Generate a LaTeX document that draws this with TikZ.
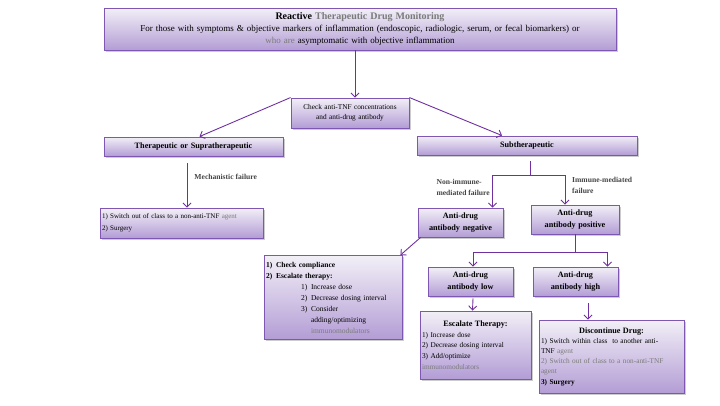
\documentclass[tikz,border=0pt]{standalone}
\usepackage{fontspec}
\setmainfont{Liberation Serif}
\usetikzlibrary{shadows,arrows.meta}

\definecolor{boxline}{HTML}{7E57B2}
\definecolor{boxtop}{HTML}{F2EFF7}
\definecolor{boxbottom}{HTML}{B39DD5}
\definecolor{flowpurple}{HTML}{7030A0}
\definecolor{softgray}{HTML}{7A7A7A}
\definecolor{labelgray}{HTML}{444444}

\tikzstyle{tdmbox} = [draw=boxline, line width=0.9pt, top color=boxtop, bottom color=boxbottom, drop shadow={shadow xshift=1.5pt, shadow yshift=-1.5pt, opacity=0.4}, inner sep=2pt, align=center]
\tikzstyle{flow} = [draw=flowpurple, line width=0.9pt, -{Straight Barb[length=4pt,width=8pt]}]
\tikzstyle{branch} = [draw=flowpurple, line width=0.9pt]
\tikzstyle{failure} = [font=\bfseries\fontsize{7.6}{11}\selectfont, text=labelgray, align=left, inner sep=0pt]
\tikzstyle{result} = [font=\bfseries\fontsize{8.2}{11.5}\selectfont]

\begin{document}
\begin{tikzpicture}[x=1pt,y=-1pt]
		\useasboundingbox (0,0) rectangle (720,405);
		% boxes
		\node[tdmbox, text width=508pt, minimum height=42pt, font=\fontsize{9}{12}\selectfont] (reactive) at (360,29) {{\fontsize{10}{12}\selectfont\textbf{Reactive \textcolor{softgray}{Therapeutic Drug Monitoring}}}\\ For those with symptoms \& objective markers of inflammation (endoscopic, radiologic, serum, or fecal biomarkers) or\\ \textcolor{softgray}{who are} asymptomatic with objective inflammation};
		\node[tdmbox, text width=114pt, minimum height=30pt, font=\fontsize{7.3}{10.5}\selectfont] (check) at (350,113) {Check anti-TNF concentrations\\ and anti-drug antibody};
		\node[tdmbox, result, text width=175pt, minimum height=19pt] (thera) at (193.5,146.5) {Therapeutic or Supratherapeutic};
		\node[tdmbox, result, text width=216pt, minimum height=19pt] (sub) at (527,145.5) {Subtherapeutic};
		\node[tdmbox, text width=159pt, minimum height=30pt, align=left, font=\fontsize{7}{11.5}\selectfont] (switch) at (181.5,223) {1) Switch out of class to a non-anti-TNF \textcolor{softgray}{agent}\\ 2) Surgery};
		\node[tdmbox, result, text width=81pt, minimum height=29pt] (neg) at (460.5,222.5) {Anti-drug\\ antibody negative};
		\node[tdmbox, result, text width=84pt, minimum height=29pt] (pos) at (575,219.5) {Anti-drug\\ antibody positive};
		\node[tdmbox, text width=134pt, minimum height=84pt, align=left, font=\fontsize{7.5}{11}\selectfont] (compl) at (333,297.5) {\textbf{1)\enspace Check compliance}\\ \textbf{2)\enspace Escalate therapy:}\\ \hspace*{35pt}1)\enspace Increase dose\\ \hspace*{35pt}2)\enspace Decrease dosing interval\\ \hspace*{35pt}3)\enspace Consider\\ \hspace*{45pt}adding/optimizing\\ \hspace*{45pt}\textcolor{softgray}{immunomodulators}};
		\node[tdmbox, result, text width=81pt, minimum height=29pt] (low) at (470.5,281.5) {Anti-drug\\ antibody low};
		\node[tdmbox, result, text width=81pt, minimum height=29pt] (high) at (575.5,281.5) {Anti-drug\\ antibody high};
		\node[tdmbox, text width=107pt, minimum height=68pt, align=left, font=\fontsize{7.3}{10.6}\selectfont] (esc) at (475.5,345) {\makebox[\hsize]{\fontsize{8.2}{10.6}\selectfont\textbf{Escalate Therapy:}}\\ 1) Increase dose\\ 2) Decrease dosing interval\\ 3) Add/optimize\\ \textcolor{softgray}{immunomodulators}};
		\node[tdmbox, text width=141pt, minimum height=73pt, align=left, font=\fontsize{7.3}{10.2}\selectfont] (disc) at (611.5,356.5) {\makebox[\hsize]{\fontsize{8.2}{10.2}\selectfont\textbf{Discontinue Drug:}}\\ 1) Switch within class\ \ to another anti-\\ TNF \textcolor{softgray}{agent}\\ \textcolor{softgray}{2) Switch out of class to a non-anti-TNF}\\ \textcolor{softgray}{agent}\\ \textbf{3) Surgery}};

		% failure labels
		\node[failure, anchor=north east] (nonimmune) at (490,179) {Non-immune-\\mediated failure};
		\node[failure, anchor=north west] (immune) at (572,177) {Immune-mediated\\failure};

		% split points
		\coordinate (subsplit) at ([xshift=3pt,yshift=-20pt]sub.south);
		\coordinate (possplit) at ([yshift=-18pt]pos.south);

		% connectors
		\draw[flow] ([xshift=5pt]check.north |- reactive.south) -- ([xshift=5pt]check.north);
		\draw[flow] (check.north west) -- ([xshift=6pt]thera.north);
		\draw[flow] (check.north east) -- ([xshift=-25pt]sub.north);
		\draw[flow] ([xshift=-6.5pt,yshift=-7pt]thera.south) -- node[failure, right=7pt, pos=0.3] (mech) {Mechanistic failure} ([xshift=5.5pt]switch.north);
		\draw[branch] ([xshift=3pt,yshift=-6pt]sub.south) -- (subsplit);
		\draw[flow] (subsplit) -| ([xshift=32pt]neg.north);
		\draw[flow] (subsplit) -| ([xshift=-10pt]pos.north);
		\draw[flow] ([xshift=3pt]neg.south west) -- ([xshift=-2pt]compl.north east);
		\draw[branch] (pos.south) -- (possplit);
		\draw[flow] (possplit) -| ([xshift=2.5pt]low.north);
		\draw[flow] (possplit) -| ([xshift=32pt]high.north);
		\draw[flow] ([xshift=2.5pt,yshift=-2pt]low.south) -- ([xshift=-3pt]esc.north);
		\draw[flow] ([xshift=12.5pt,yshift=-7pt]high.south) -- ([xshift=-23.5pt]disc.north);
\end{tikzpicture}
\end{document}
